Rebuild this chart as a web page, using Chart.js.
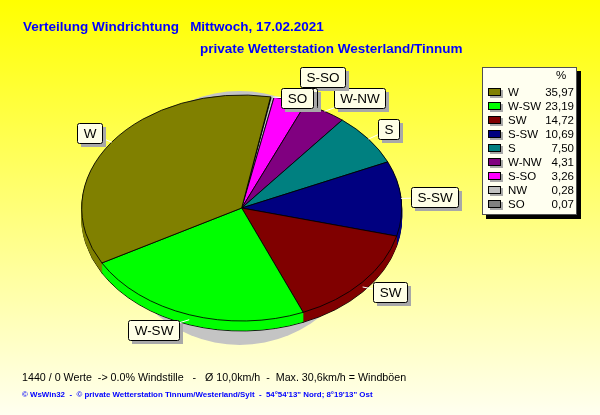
<!DOCTYPE html>
<html>
<head>
<meta charset="utf-8">
<script src="https://cdn.jsdelivr.net/npm/chart.js@4"></script>
<style>
  html, body { margin: 0; padding: 0; }
  body { width: 600px; height: 415px; overflow: hidden; }
</style>
</head>
<body>
<canvas id="windChart" width="600" height="415"></canvas>
<script>
const directions = ["W", "W-SW", "SW", "S-SW", "S", "W-NW", "S-SO", "NW", "SO"];
const shares = [35.97, 23.19, 14.72, 10.69, 7.50, 4.31, 3.26, 0.28, 0.07];
const sliceColors = ["#808000", "#00ff00", "#800000", "#000080", "#008080", "#800080", "#ff00ff", "#c0c0c0", "#808080"];

const titleLine = "Verteilung Windrichtung   Mittwoch, 17.02.2021";
const stationLine = "private Wetterstation Westerland/Tinnum";
const summaryLine = "1440 / 0 Werte  -> 0.0% Windstille   -   Ø 10,0km/h  -  Max. 30,6km/h = Windböen";
const footerLine = "© WsWin32  -  © private Wetterstation Tinnum/Westerland/Sylt  -  54°54'13\" Nord; 8°19'13\" Ost";

const FONT = "'Liberation Sans', Arial, sans-serif";
const tilt = 113 / 160;   // flatten the pie into an ellipse
const depth = 10;         // height of the pie's side

// the old chart runs its slices counter-clockwise, chart.js runs clockwise
const rev = (a) => a.slice().reverse();

const squash = (ctx, cx, cy) => {
  ctx.translate(cx, cy);
  ctx.scale(1, tilt);
  ctx.translate(-cx, -cy);
};

const background = {
  id: "background",
  beforeDraw(chart) {
    const { ctx, width, height } = chart;
    const g = ctx.createLinearGradient(0, 0, 0, height);
    g.addColorStop(0, "#ffff00");
    g.addColorStop(1, "#fffff0");
    ctx.save();
    ctx.fillStyle = g;
    ctx.fillRect(0, 0, width, height);
    ctx.restore();
  },
};

const ellipsePie = {
  id: "ellipsePie",
  beforeDatasetsDraw(chart) {
    const ctx = chart.ctx;
    const arcs = chart.getDatasetMeta(0).data;
    const { x: cx, y: cy, outerRadius: r } = arcs[0].getProps(["x", "y", "outerRadius"]);

    // soft shadow under the pie
    ctx.save();
    ctx.fillStyle = "#c4c4c4";
    ctx.beginPath();
    ctx.ellipse(cx - 2, cy + 10, r * 0.8, r * tilt + 14, 0, 0, Math.PI * 2);
    ctx.fill();
    ctx.restore();

    // side of the pie: stacked copies of the slices
    for (let d = depth; d >= 1; d--) {
      ctx.save();
      ctx.translate(0, d);
      squash(ctx, cx, cy);
      arcs.forEach((arc) => {
        const keep = arc.options;
        if (d < depth) arc.options = Object.assign({}, keep, { borderColor: keep.backgroundColor });
        arc.draw(ctx);
        arc.options = keep;
      });
      ctx.restore();
    }

    // top face is drawn by chart.js inside this transform
    ctx.save();
    squash(ctx, cx, cy);
  },
  afterDatasetsDraw(chart) {
    chart.ctx.restore();
  },
};

const overlaps = (a, b) =>
  a.x < b.x + b.w && b.x < a.x + a.w && a.y < b.y + b.h && b.y < a.y + a.h;

const sliceLabels = {
  id: "sliceLabels",
  afterDatasetsDraw(chart) {
    const ctx = chart.ctx;
    const arcs = chart.getDatasetMeta(0).data;
    const placed = [];
    ctx.save();
    ctx.font = "13.5px " + FONT;
    ctx.textAlign = "center";
    ctx.textBaseline = "middle";

    directions.forEach((name, i) => {
      const arc = arcs[arcs.length - 1 - i];
      const p = arc.getProps(["x", "y", "startAngle", "endAngle", "outerRadius"]);
      const mid = (p.startAngle + p.endAngle) / 2;
      const ex = p.x + Math.cos(mid) * p.outerRadius;
      const ey = p.y + Math.sin(mid) * p.outerRadius * tilt;

      const w = Math.round(ctx.measureText(name).width) + 12;
      const h = 20;
      const side = Math.cos(mid) >= 0 ? 1 : -1;
      const box = {
        x: ex + side * (w / 2 + 10) - w / 2,
        y: ey + Math.sin(mid) * 16 - h / 2,
        w, h,
      };

      // keep clear of the boxes of the bigger slices
      placed.forEach((o) => {
        if (o.share < 1 || !overlaps(box, o)) return;
        const up = box.y + box.h - o.y + 1;
        const down = o.y + o.h - box.y + 1;
        box.y += up < down ? -up : down;
      });
      box.share = shares[i];
      placed.push(box);

      const bx = Math.round(box.x) + 0.5;
      const by = Math.round(box.y) + 0.5;

      ctx.strokeStyle = "#ffffff";
      ctx.lineWidth = 1;
      ctx.beginPath();
      ctx.moveTo(ex, ey + (Math.sin(mid) > 0 ? depth * 0.5 : 0));
      ctx.lineTo(bx + w / 2, by + h / 2);
      ctx.stroke();

      ctx.fillStyle = "#a8a8a8";
      ctx.fillRect(bx + 3.5, by + 3.5, w, h);
      ctx.fillStyle = "#ffffe6";
      ctx.strokeStyle = "#000000";
      ctx.beginPath();
      ctx.roundRect(bx, by, w, h, 2);
      ctx.fill();
      ctx.stroke();
      ctx.fillStyle = "#000000";
      ctx.fillText(name, bx + w / 2, by + h / 2 + 1);
    });
    ctx.restore();
  },
};

const sideLegend = {
  id: "sideLegend",
  afterDraw(chart) {
    const ctx = chart.ctx;
    ctx.save();
    ctx.fillStyle = "#000000";
    ctx.fillRect(486, 71, 95, 148);
    ctx.fillStyle = "#fffff0";
    ctx.fillRect(482, 67, 95, 148);
    ctx.strokeStyle = "#505050";
    ctx.lineWidth = 1;
    ctx.strokeRect(482.5, 67.5, 94, 147);

    ctx.font = "11.5px " + FONT;
    ctx.textBaseline = "middle";
    ctx.fillStyle = "#000000";
    ctx.textAlign = "center";
    ctx.fillText("%", 561, 76);

    directions.forEach((name, i) => {
      const y = 92 + i * 14;
      ctx.fillStyle = "#a8a8a8";
      ctx.fillRect(490, y - 2, 13, 8);
      ctx.fillStyle = sliceColors[i];
      ctx.fillRect(488, y - 4, 13, 8);
      ctx.strokeStyle = "#000000";
      ctx.strokeRect(488.5, y - 3.5, 12, 7);

      ctx.fillStyle = "#000000";
      ctx.textAlign = "left";
      ctx.fillText(name, 508, y + 1);
      ctx.textAlign = "right";
      ctx.fillText(shares[i].toFixed(2).replace(".", ","), 574, y + 1);
    });
    ctx.restore();
  },
};

const captions = {
  id: "captions",
  afterDraw(chart) {
    const ctx = chart.ctx;
    ctx.save();
    ctx.textAlign = "left";
    ctx.textBaseline = "alphabetic";
    ctx.fillStyle = "#0000ff";
    ctx.font = "bold 13.5px " + FONT;
    ctx.fillText(titleLine, 23, 31);
    ctx.fillText(stationLine, 200, 53);

    ctx.fillStyle = "#000000";
    ctx.font = "10.7px " + FONT;
    ctx.fillText(summaryLine, 22, 381);

    ctx.fillStyle = "#0000ff";
    ctx.font = "bold 7.9px " + FONT;
    ctx.fillText(footerLine, 22, 397);
    ctx.restore();
  },
};

const ctx = document.getElementById("windChart").getContext("2d");

const windChart = new Chart(ctx, {
  type: "pie",
  data: {
    labels: rev(directions),
    datasets: [
      {
        data: rev(shares),
        backgroundColor: rev(sliceColors),
        borderColor: "#000000",
        borderWidth: 1,
        clip: false,
      },
    ],
  },
  options: {
    responsive: false,
    animation: false,
    devicePixelRatio: 1,
    rotation: 10.4,
    radius: 160,
    layout: {
      padding: { left: 81.7, right: 198.3, top: 48, bottom: 47 },
    },
    plugins: {
      legend: { display: false },
      tooltip: { enabled: false },
    },
  },
  plugins: [background, ellipsePie, sliceLabels, sideLegend, captions],
});
</script>
</body>
</html>
